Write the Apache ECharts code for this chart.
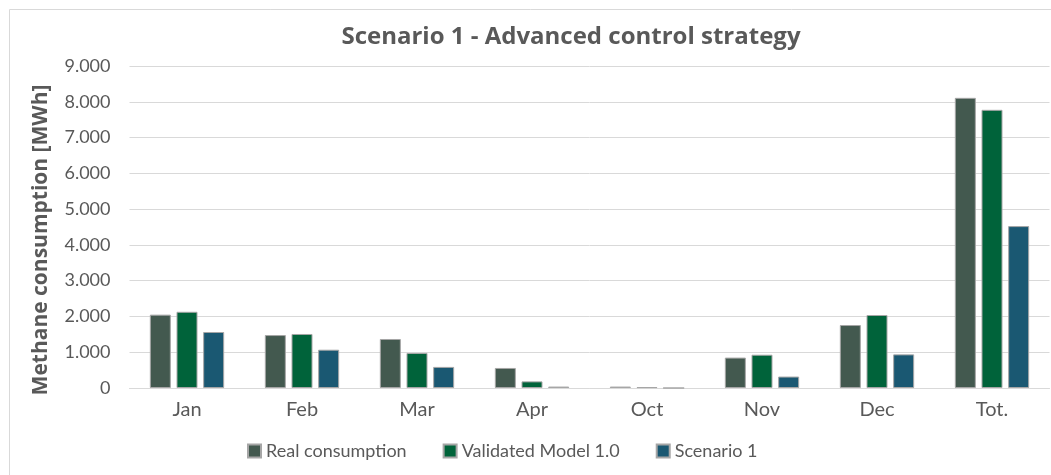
<!DOCTYPE html>
<html>
<head>
<meta charset="utf-8">
<script src="https://cdn.jsdelivr.net/npm/echarts@6/dist/echarts.min.js"></script>
<style>html,body{margin:0;padding:0;background:#fff}#c{width:1051px;height:475px}</style>
</head>
<body>
<div id="c"></div>
<script>
const categories = ['Jan', 'Feb', 'Mar', 'Apr', 'Oct', 'Nov', 'Dec', 'Tot.'];
const realConsumption = [2050, 1480, 1370, 560, 40, 850, 1760, 8110];
const validatedModel = [2130, 1510, 980, 185, 25, 930, 2040, 7775];
const scenario1 = [1565, 1070, 590, 40, 0, 320, 940, 4525];
const seriesNames = ['Real consumption', 'Validated Model 1.0', 'Scenario 1'];
const yTicks = { min: 0, max: 9000, interval: 1000 };

const FONT = 'Lato';
const TXT = '#595959';
const colors = ['#43594f', '#00633a', '#1a5872'];

function fmt(v) {
  return String(v).replace(/\B(?=(\d{3})+(?!\d))/g, '.');
}

const chart = echarts.init(document.getElementById('c'));
const mk = (name, data, i) => ({
  name, type: 'bar', data,
  barWidth: 21, barGap: '27%',
  itemStyle: { color: colors[i], borderColor: '#a6a6a6', borderWidth: 1 },
  emphasis: { disabled: true }
});
chart.setOption({
  animation: false,
  textStyle: { fontFamily: FONT },
  title: {
    text: 'Scenario 1 - Advanced control strategy',
    left: 566, top: 20, textAlign: 'center',
    textStyle: { fontFamily: 'Open Sans', fontSize: 24, fontWeight: 'bold', color: TXT }
  },
  legend: {
    data: seriesNames,
    left: 247, top: 442, padding: 0,
    itemWidth: 13, itemHeight: 13, itemGap: 36,
    icon: 'rect',
    textStyle: { fontFamily: FONT, fontSize: 18, color: TXT, padding: [0, 0, 0, 0] }
  },
  grid: { left: 129.5, right: 1.5, top: 66, bottom: 87, containLabel: false },
  xAxis: {
    type: 'category', data: categories,
    axisLine: { lineStyle: { color: '#d9d9d9', width: 1 } },
    axisTick: { show: false },
    axisLabel: { color: TXT, fontSize: 20, fontFamily: FONT, margin: 12 }
  },
  yAxis: {
    type: 'value', min: yTicks.min, max: yTicks.max, interval: yTicks.interval,
    axisLine: { show: false }, axisTick: { show: false },
    splitLine: { lineStyle: { color: '#d9d9d9', width: 1 } },
    axisLabel: { color: TXT, fontSize: 18, fontFamily: FONT, margin: 19, formatter: fmt }
  },
  graphic: [
    { type: 'rect', shape: { x: 9.5, y: 9.5, width: 1100, height: 470 },
      style: { fill: 'none', stroke: '#d9d9d9', lineWidth: 1 }, silent: true },
    { type: 'text', x: 41, y: 240, rotation: Math.PI / 2,
      style: { text: 'Methane consumption [MWh]', fontFamily: 'Open Sans', fontSize: 21, fontWeight: 'bold',
        fill: TXT, align: 'center', verticalAlign: 'middle' } }
  ],
  series: [
    mk(seriesNames[0], realConsumption, 0),
    mk(seriesNames[1], validatedModel, 1),
    mk(seriesNames[2], scenario1, 2)
  ]
});
</script>
</body>
</html>
